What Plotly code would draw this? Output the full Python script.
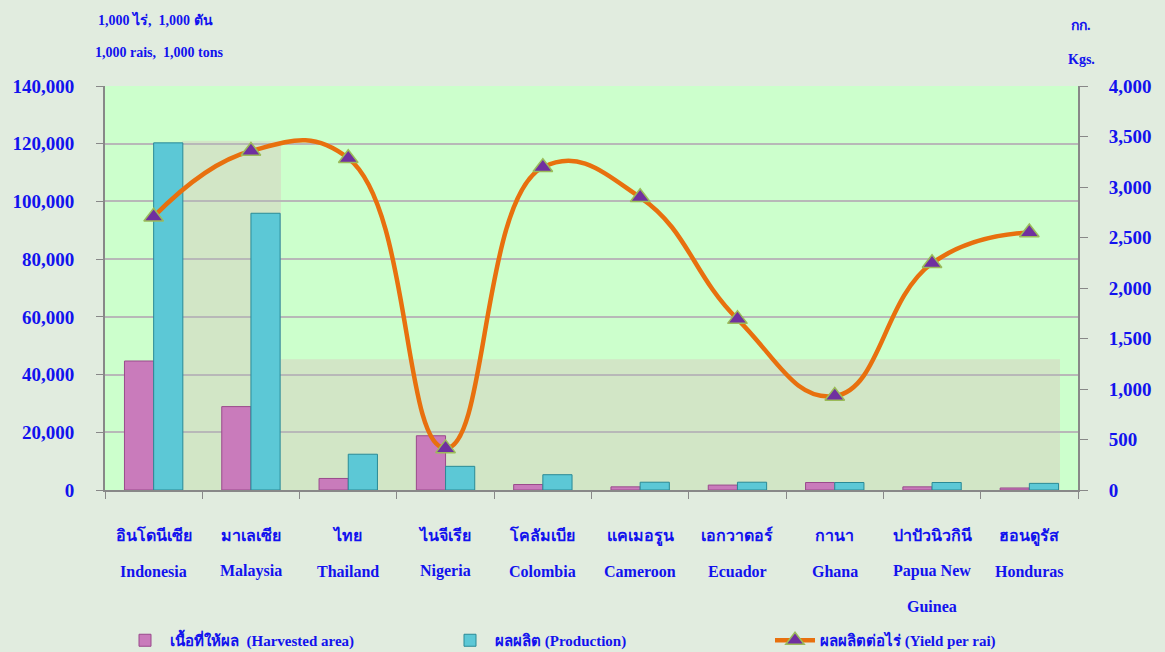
import plotly.graph_objects as go

# countries (Thai name, English name)
thai_names = ["อินโดนีเซีย", "มาเลเซีย", "ไทย", "ไนจีเรีย", "โคลัมเบีย",
              "แคเมอรูน", "เอกวาดอร์", "กานา", "ปาปัวนิวกินี", "ฮอนดูรัส"]
eng_names = ["Indonesia", "Malaysia", "Thailand", "Nigeria", "Colombia",
             "Cameroon", "Ecuador", "Ghana", "Papua New<br>Guinea", "Honduras"]

# 1,000 rais / 1,000 tons
harvested = [44700, 28900, 4000, 18800, 1900, 1100, 1700, 2600, 1100, 700]
production = [120300, 95900, 12400, 8200, 5300, 2700, 2700, 2600, 2600, 2300]
# kgs per rai
yield_rai = [2706, 3356, 3284, 412, 3195, 2898, 1692, 930, 2245, 2550]

cats = thai_names
BLUE = "#1212EE"
FONT = "Liberation Serif"
BG = "#E1ECDF"

W, H = 1165, 652
PL, PR, PT, PB = 105, 1078, 86, 490  # plot area in window pixels
pw, ph = PR - PL, PB - PT


def px_x(x):
    return (x - PL) / pw


def px_y(y):
    return (PB - y) / ph


fig = go.Figure()
fig.add_trace(go.Bar(
    x=cats, y=harvested, name="เนื้อที่ให้ผล  (Harvested area)",
    marker=dict(color="#C97BBB", line=dict(color="#9A4A8C", width=1)),
))
fig.add_trace(go.Bar(
    x=cats, y=production, name="ผลผลิต (Production)",
    marker=dict(color="#5CC8D6", line=dict(color="#2A8A96", width=1)),
))
fig.add_trace(go.Scatter(
    x=cats, y=yield_rai, name="ผลผลิตต่อไร่ (Yield per rai)", yaxis="y2",
    mode="lines+markers", line=dict(color="#E8700E", width=4.5, shape="spline", smoothing=1.3),
    marker=dict(symbol="triangle-up", size=17, color="#7030A0",
                line=dict(color="#9BBB59", width=1.5)),
))

# shaded panels behind the bars
fig.add_shape(type="rect", xref="paper", yref="y", x0=px_x(182), x1=px_x(281), y0=0, y1=121000,
              fillcolor="#D2E6C6", line_width=0, layer="below")
fig.add_shape(type="rect", xref="paper", yref="y", x0=px_x(281), x1=px_x(1060), y0=0, y1=45300,
              fillcolor="#D2E6C6", line_width=0, layer="below")

annotations = []
hdr = dict(xref="paper", yref="paper", showarrow=False, xanchor="center", yanchor="middle",
           font=dict(size=14, color=BLUE, family=FONT, weight="bold"))
for text, x, y in [("1,000 ไร่,  1,000 ตัน", 155, 19), ("1,000 rais,  1,000 tons", 159, 53),
                   ("กก.", 1081, 25), ("Kgs.", 1081, 60)]:
    annotations.append(dict(hdr, text=text, x=px_x(x), y=px_y(y)))

# English country names under the Thai tick labels
for cat, name in zip(cats, eng_names):
    for i, line in enumerate(name.split("<br>")):
        annotations.append(dict(
            text=line, x=cat, xref="x", y=px_y(571 + 35 * i), yref="paper",
            showarrow=False, xanchor="center", yanchor="middle",
            font=dict(size=16, color=BLUE, family=FONT, weight="bold")))

fig.update_layout(
    width=W, height=H,
    margin=dict(l=PL, r=W - PR, t=PT, b=H - PB, autoexpand=False),
    paper_bgcolor=BG, plot_bgcolor="#CCFFCC",
    font=dict(family=FONT, color=BLUE, size=15, weight="bold"),
    barmode="group", bargap=0.4, bargroupgap=0,
    showlegend=True,
    legend=dict(orientation="h", x=px_x(120), xanchor="left", y=-(624 - PB) / ph, yanchor="top",
                font=dict(size=15, family=FONT, color=BLUE, weight="bold"),
                entrywidth=270, itemwidth=40, bgcolor="rgba(0,0,0,0)", traceorder="normal"),
    xaxis=dict(range=[-0.5, len(cats) - 0.5], tickson="boundaries", ticks="outside",
               ticklen=7, tickcolor="#888888",
               showline=True, linecolor="#888888", linewidth=2, showgrid=False,
               tickangle=0, automargin=False,
               ticklabelstandoff=30, tickfont=dict(size=16, color=BLUE)),
    yaxis=dict(range=[0, 140000], dtick=20000, tickformat=",", automargin=False,
               ticks="outside", ticklen=7, tickcolor="#888888",
               showline=True, linecolor="#888888", linewidth=2,
               gridcolor="#B8B8B8", gridwidth=1.5, zeroline=False,
               ticklabelstandoff=18, tickfont=dict(size=19, color=BLUE)),
    yaxis2=dict(range=[0, 4000], dtick=500, tickformat=",", overlaying="y", side="right",
                ticks="outside", ticklen=8, tickcolor="#888888", automargin=False,
                showline=True, linecolor="#888888", linewidth=2, showgrid=False,
                zeroline=False, ticklabelstandoff=17, tickfont=dict(size=19, color=BLUE)),
    annotations=annotations,
)

# drop the default body margin so the figure fills the window
fig.write_html("out.html", config={"displayModeBar": False}, post_script=(
    "document.body.style.margin='0';"
    "document.body.style.overflow='hidden';"
    f"document.body.style.background='{BG}';"))
